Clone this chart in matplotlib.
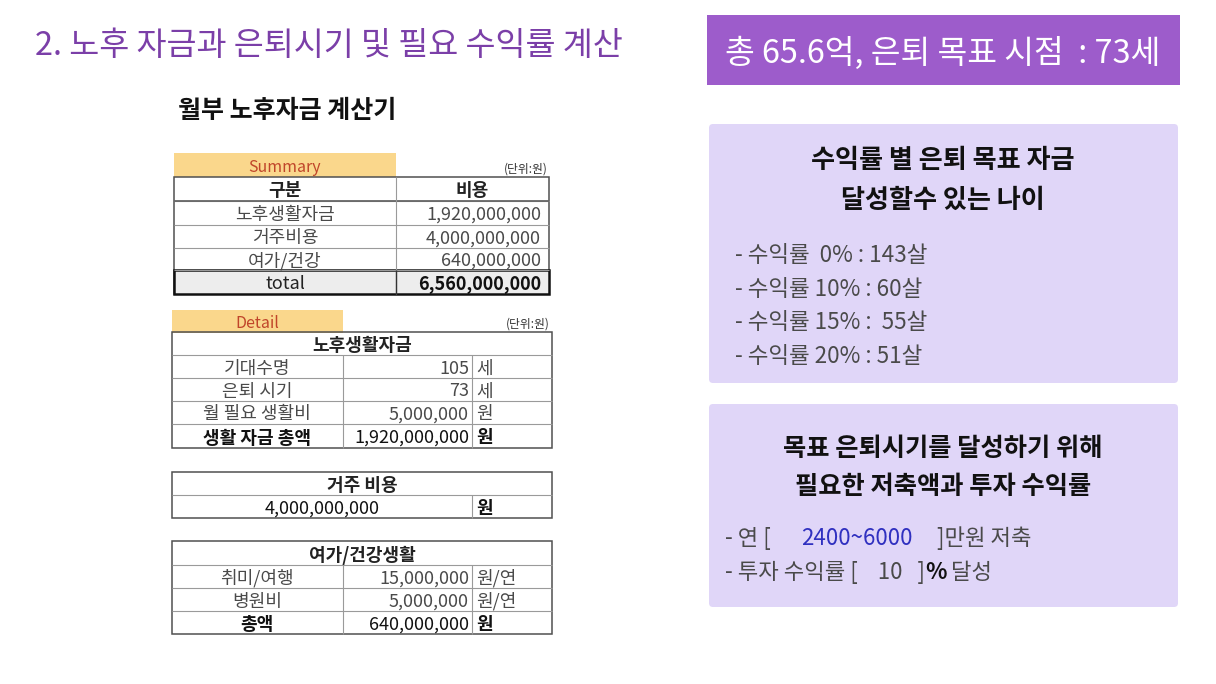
import matplotlib
matplotlib.use("Agg")
import matplotlib.pyplot as plt
from matplotlib.patches import Rectangle, FancyBboxPatch

plt.rcParams['font.family'] = ['Noto Sans CJK KR', 'DejaVu Sans']

# ---------------- data ----------------
page_title = "2. 노후 자금과 은퇴시기 및 필요 수익률 계산"
calc_title = "월부 노후자금 계산기"
unit_note = "(단위:원)"

summary_header = ["구분", "비용"]
summary_labels = ["노후생활자금", "거주비용", "여가/건강"]
summary_values = [1920000000, 4000000000, 640000000]
summary_total_label = "total"
summary_total_value = 6560000000

living_title = "노후생활자금"
living_labels = ["기대수명", "은퇴 시기", "월 필요 생활비", "생활 자금 총액"]
living_values = [105, 73, 5000000, 1920000000]
living_units = ["세", "세", "원", "원"]

housing_title = "거주 비용"
housing_value = 4000000000
housing_unit = "원"

leisure_title = "여가/건강생활"
leisure_labels = ["취미/여행", "병원비", "총액"]
leisure_values = [15000000, 5000000, 640000000]
leisure_units = ["원/연", "원/연", "원"]

banner_text = "총 65.6억, 은퇴 목표 시점  : 73세"

box1_title = ["수익률 별 은퇴 목표 자금", "달성할수 있는 나이"]
rates = [0, 10, 15, 20]
ages = [143, 60, 55, 51]

box2_title = ["목표 은퇴시기를 달성하기 위해", "필요한 저축액과 투자 수익률"]
saving_range = "2400~6000"
target_rate = 10

# ---------------- style ----------------
PURPLE_TITLE = "#7B3FA8"
BANNER = "#9D5CCB"
LAVENDER = "#E0D6F8"
YELLOW = "#FAD78C"
HEAD_RED = "#C0452A"
GRAY_TXT = "#4A4A4A"
LINE_IN = "#9A9A9A"
LINE_OUT = "#505050"
FS = 13

fig = plt.figure(figsize=(12.16, 6.84), dpi=100)
ax = fig.add_axes([0, 0, 1, 1])
ax.set_xlim(0, 1216)
ax.set_ylim(684, 0)
ax.axis("off")


def T(x, y, s, size=FS, ha="center", va="center_baseline", weight="normal", color="#222222", **kw):
    return ax.text(x, y, s, fontsize=size, ha=ha, va=va, fontweight=weight, color=color, **kw)


def hline(x0, x1, y, lw=0.8, c=LINE_IN):
    ax.plot([x0, x1], [y, y], color=c, lw=lw, solid_capstyle="butt")


def vline(x, y0, y1, lw=0.8, c=LINE_IN):
    ax.plot([x, x], [y0, y1], color=c, lw=lw, solid_capstyle="butt")


def frame(x0, y0, x1, y1, lw=1.1, c=LINE_OUT):
    ax.add_patch(Rectangle((x0, y0), x1 - x0, y1 - y0, fill=False, ec=c, lw=lw))


fmt = lambda v: f"{v:,}"

# titles
T(35, 42, page_title, size=23.5, ha="left", color=PURPLE_TITLE, weight="light")
T(178, 109, calc_title, size=18, ha="left", weight="bold", color="#111111")

# ---------------- Summary table ----------------
ax.add_patch(Rectangle((174, 153), 222, 24, fc=YELLOW, ec="none"))
T(285, 166, "Summary", size=11.5, color=HEAD_RED)
T(548, 168, unit_note, size=8.5, ha="right", color="#333333")

sx0, sx1, sdiv = 174, 549, 396
row_y = [177, 201, 225, 248, 270, 294]
for y in row_y[1:-1]:
    hline(sx0, sx1, y)
hline(sx0, sx1, row_y[1], lw=1.3, c="#666666")
vline(sdiv, row_y[0], row_y[-1])
frame(sx0, row_y[0], sx1, row_y[-1])
T(285, (row_y[0] + row_y[1]) / 2, summary_header[0], weight="bold")
T(472, (row_y[0] + row_y[1]) / 2, summary_header[1], weight="bold")
for i, (lab, val) in enumerate(zip(summary_labels, summary_values)):
    yc = (row_y[i + 1] + row_y[i + 2]) / 2
    T(285, yc, lab, color=GRAY_TXT)
    T(541, yc, fmt(val), ha="right", color=GRAY_TXT)
ax.add_patch(Rectangle((sx0, row_y[4]), sx1 - sx0, row_y[5] - row_y[4], fc="#EDEDED", ec="#111111", lw=1.8))
vline(sdiv, row_y[4], row_y[5], lw=1.0, c="#333333")
yc = (row_y[4] + row_y[5]) / 2
T(285, yc, summary_total_label, color="#222222")
T(541, yc, fmt(summary_total_value), ha="right", weight="bold", color="#111111")

# ---------------- Detail: living ----------------
dx0, dx1, dd1, dd2 = 172, 552, 343, 472
ax.add_patch(Rectangle((dx0, 310), dd1 - dx0, 23, fc=YELLOW, ec="none"))
T(257, 322, "Detail", size=11.5, color=HEAD_RED)
T(550, 323, unit_note, size=8.5, ha="right", color="#333333")

ly = [332, 355, 378, 401, 424, 448]
for y in ly[1:-1]:
    hline(dx0, dx1, y)
vline(dd1, ly[1], ly[-1])
vline(dd2, ly[1], ly[-1])
frame(dx0, ly[0], dx1, ly[-1])
T(362, (ly[0] + ly[1]) / 2, living_title, weight="bold")
for i, (lab, val, u) in enumerate(zip(living_labels, living_values, living_units)):
    yc = (ly[i + 1] + ly[i + 2]) / 2
    last = i == len(living_labels) - 1
    col = "#111111" if last else GRAY_TXT
    w = "bold" if last else "normal"
    T(257, yc, lab, color=col, weight=w)
    T(469, yc, fmt(val), ha="right", color=col)
    T(476, yc, u, ha="left", color=col, weight=w)

# ---------------- housing ----------------
hy = [472, 495, 518]
hline(dx0, dx1, hy[1])
vline(dd2, hy[1], hy[2])
frame(dx0, hy[0], dx1, hy[2])
T(362, (hy[0] + hy[1]) / 2, housing_title, weight="bold")
T(322, (hy[1] + hy[2]) / 2, fmt(housing_value), color="#111111")
T(476, (hy[1] + hy[2]) / 2, housing_unit, ha="left", weight="bold", color="#111111")

# ---------------- leisure ----------------
gy = [541, 565, 588, 611, 634]
for y in gy[1:-1]:
    hline(dx0, dx1, y)
vline(dd1, gy[1], gy[-1])
vline(dd2, gy[1], gy[-1])
frame(dx0, gy[0], dx1, gy[-1])
T(362, (gy[0] + gy[1]) / 2, leisure_title, weight="bold")
for i, (lab, val, u) in enumerate(zip(leisure_labels, leisure_values, leisure_units)):
    yc = (gy[i + 1] + gy[i + 2]) / 2
    last = i == len(leisure_labels) - 1
    col = "#111111" if last else GRAY_TXT
    w = "bold" if last else "normal"
    T(257, yc, lab, color=col, weight=w)
    T(469, yc, fmt(val), ha="right", color=col)
    T(476, yc, u, ha="left", color=col, weight=w)

# ---------------- right side ----------------
ax.add_patch(Rectangle((707, 15), 473, 70, fc=BANNER, ec="none"))
T(943, 50, banner_text, size=23.3, color="white")

ax.add_patch(FancyBboxPatch((709, 124), 469, 259, boxstyle="round,pad=0,rounding_size=4",
                            fc=LAVENDER, ec="none"))
T(943, 158, box1_title[0], size=18.8, weight="bold", color="#111111")
T(943, 197, box1_title[1], size=18.8, weight="bold", color="#111111")
for i, (r, a) in enumerate(zip(rates, ages)):
    rs = f"{r}%" if r >= 10 else f" {r}%"
    sep = " :  " if r == 15 else " : "
    T(735, 253 + i * 33.7, f"- 수익률 {rs}{sep}{a}살", size=16.2, ha="left", color=GRAY_TXT)

ax.add_patch(FancyBboxPatch((709, 404), 469, 203, boxstyle="round,pad=0,rounding_size=4",
                            fc=LAVENDER, ec="none"))
T(943, 445, box2_title[0], size=18.2, weight="bold", color="#111111")
T(943, 484, box2_title[1], size=18.2, weight="bold", color="#111111")


def chain(x, y, parts, size=16):
    prev = None
    for s, col, w in parts:
        if prev is None:
            prev = ax.text(x, y, s, fontsize=size, ha="left", va="baseline", color=col, fontweight=w)
        else:
            prev = ax.annotate(s, xy=(1, 0), xycoords=prev, xytext=(0, 0), textcoords="offset points",
                               fontsize=size, ha="left", va="bottom", color=col, fontweight=w)
    return prev


chain(725, 545, [("- 연 [      ", GRAY_TXT, "normal"), (saving_range, "#3030C0", "normal"),
                 ("     ]만원 저축", GRAY_TXT, "normal")])
chain(725, 579, [(f"- 투자 수익률 [    {target_rate}   ]", GRAY_TXT, "normal"), ("%", "#111111", "bold"),
                 (" 달성", GRAY_TXT, "normal")])

fig.savefig("out.png", dpi=100, facecolor="white")
